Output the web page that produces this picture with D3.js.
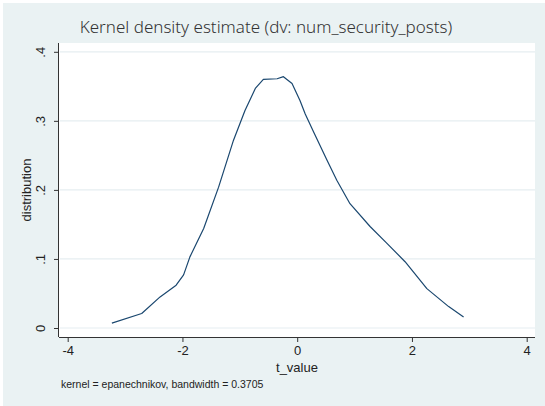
<!DOCTYPE html>
<html><head><meta charset="utf-8">
<script src="https://cdn.jsdelivr.net/npm/d3@7"></script>
<style>html,body{margin:0;padding:0;background:#fff}svg{display:block}</style>
</head><body>
<script>
// Data
const tValues = [-3.23,-2.71,-2.39,-2.11,-1.98,-1.87,-1.63,-1.37,-1.11,-0.91,-0.73,-0.59,-0.35,-0.24,-0.09,0.05,0.14,0.28,0.52,0.69,0.92,1.27,1.56,1.88,2.26,2.64,2.90];
const density = [0.007,0.021,0.045,0.062,0.077,0.103,0.144,0.204,0.272,0.315,0.347,0.360,0.361,0.364,0.354,0.329,0.310,0.285,0.243,0.214,0.180,0.147,0.123,0.096,0.057,0.031,0.016];
const xTicks = [-4,-2,0,2,4];
const yTicks = [0,0.1,0.2,0.3,0.4];
const yTickLabels = ["0",".1",".2",".3",".4"];
const titleText = "Kernel density estimate (dv: num_security_posts)";
const xTitle = "t_value";
const yTitle = "distribution";
const noteText = "kernel = epanechnikov, bandwidth = 0.3705";

const W = 545, H = 406;
const svg = d3.select("body").append("svg").attr("width", W).attr("height", H);
const bg = "#eaf2f3";
svg.append("rect").attr("x",3).attr("y",3).attr("width",W-3).attr("height",H-3).attr("fill",bg);

const plot = {l:59, r:535, t:43, b:337};
svg.append("rect").attr("x",plot.l).attr("y",plot.t).attr("width",plot.r-plot.l).attr("height",plot.b-plot.t).attr("fill","#fff");

const x = d3.scaleLinear().domain([-4,4]).range([67.7,526.7]);
const y = d3.scaleLinear().domain([0,0.4]).range([328,51.8]);

// gridlines
svg.append("g").selectAll("line").data(yTicks).join("line")
  .attr("x1",plot.l+1).attr("x2",plot.r).attr("y1",d=>y(d)).attr("y2",d=>y(d))
  .attr("stroke","#e6eef1").attr("stroke-width",1.2);

// curve
const line = d3.line().x((d,i)=>x(tValues[i])).y(d=>y(d)).curve(d3.curveLinear);
svg.append("path").datum(density).attr("d",line).attr("fill","none")
  .attr("stroke","#1a476f").attr("stroke-width",1.2).attr("stroke-linejoin","round");

// axes
const font = "'Liberation Sans', Arial, sans-serif";
const xAxis = d3.axisBottom(x).tickValues(xTicks).tickSize(5).tickPadding(4).tickFormat(d3.format("d"));
const gx = svg.append("g").attr("transform",`translate(0,${plot.b})`).call(xAxis);
gx.select(".domain").attr("d",`M${plot.l},0.5H${plot.r}`).attr("stroke","#333");
gx.selectAll(".tick line").attr("stroke","#333");
gx.selectAll(".tick text").attr("font-family",font).attr("font-size",13).attr("fill","#222")
  .text(d=>d<0?"-"+Math.abs(d):d);

const yAxis = d3.axisLeft(y).tickValues(yTicks).tickSize(5).tickFormat((d,i)=>yTickLabels[i]);
const gy = svg.append("g").attr("transform",`translate(${plot.l},0)`).call(yAxis);
gy.select(".domain").attr("d",`M-0.5,${plot.t}V${plot.b}`).attr("stroke","#333");
gy.selectAll(".tick line").attr("stroke","#333");
gy.selectAll(".tick text").attr("font-family",font).attr("font-size",13).attr("fill","#222")
  .attr("x",null).attr("dy",null).attr("text-anchor","middle")
  .attr("transform","translate(-14,0) rotate(-90)").attr("y",0);

// titles
svg.append("text").attr("x",266).attr("y",33).attr("text-anchor","middle")
  .attr("font-family","'Noto Sans', 'Open Sans', sans-serif").attr("font-weight",300)
  .attr("font-size",17).attr("fill","#333").text(titleText);
svg.append("text").attr("x",297).attr("y",372).attr("text-anchor","middle")
  .attr("font-family",font).attr("font-size",13).attr("fill","#222").text(xTitle);
svg.append("text").attr("transform","translate(31,190) rotate(-90)").attr("text-anchor","middle")
  .attr("font-family",font).attr("font-size",13).attr("fill","#222").text(yTitle);
svg.append("text").attr("x",61).attr("y",388)
  .attr("font-family",font).attr("font-size",10.5).attr("fill","#222").text(noteText);
</script>
</body></html>
